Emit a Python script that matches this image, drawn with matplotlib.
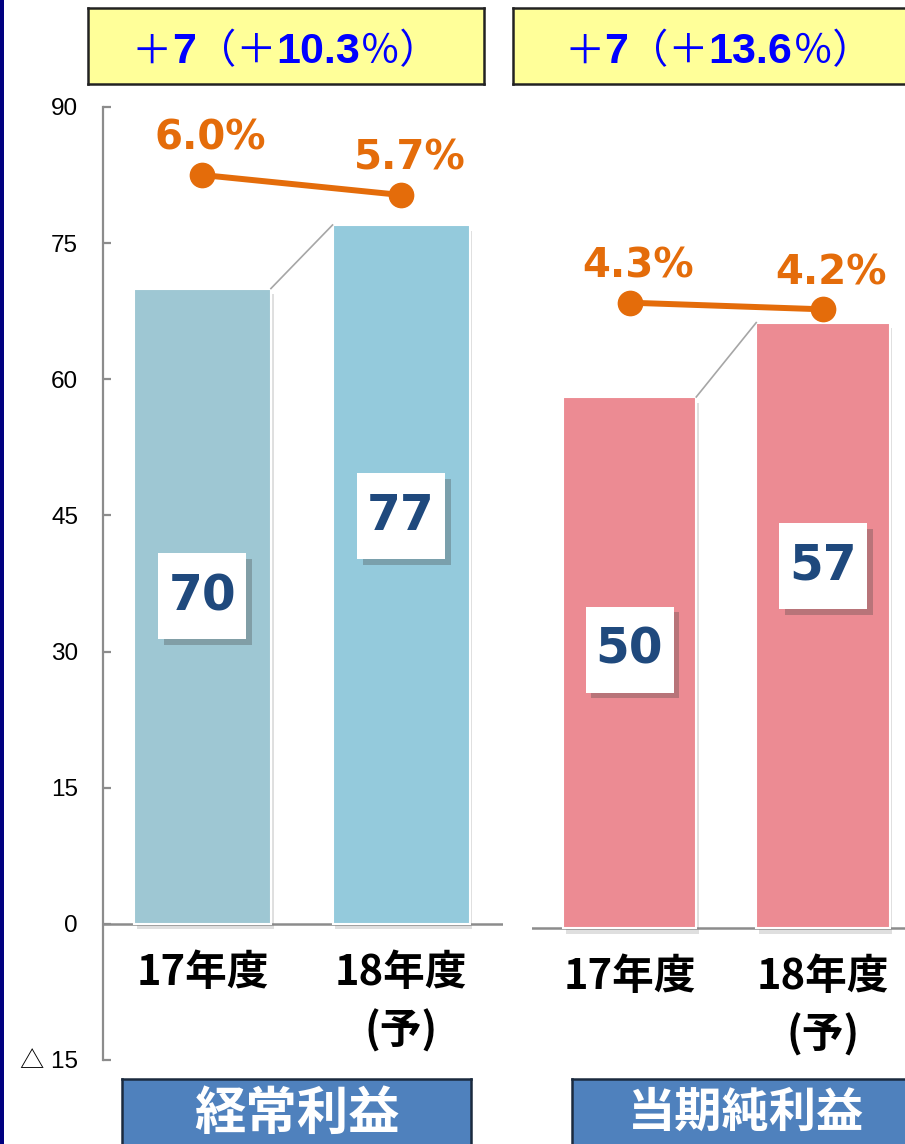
import matplotlib
matplotlib.use('Agg')
import matplotlib.pyplot as plt
from matplotlib import patheffects as pe
from matplotlib.path import Path

# ---------------- data ----------------
categories = ['17年度', '18年度\n(予)']
panel_titles = ['経常利益', '当期純利益']
ordinary_profit = [70, 77]
net_profit = [50, 57]
ordinary_margin = [6.0, 5.7]
net_margin = [4.3, 4.2]
ordinary_change = ['7', '10.3']
net_change = ['7', '13.6']
ytick_values = [-15, 0, 15, 30, 45, 60, 75, 90]
ytick_labels = ['△ 15', '0', '15', '30', '45', '60', '75', '90']

# ---------------- style ----------------
W, H = 905, 1144
ORANGE = '#E46C0A'
NAVY_TXT = '#1F497D'
GRAY = '#8C8C8C'
left_colors = ['#9EC7D3', '#94CADC']
right_colors = ['#EC8B93', '#EC8B93']
label_frac = [[0.516, 0.583], [0.524, 0.598]]
CJK = ['Noto Sans CJK JP', 'DejaVu Sans']

fig = plt.figure(figsize=(W / 100, H / 100), dpi=100)
fig.patch.set_facecolor('white')


def rect(l, t, r, b):
    return [l / W, 1 - b / H, (r - l) / W, (b - t) / H]


def fixed_box(x0, y0, width, height, mutation_size):
    # square label box of fixed pixel size centred on the text
    cx, cy = x0 + width / 2, y0 + height / 2
    w, h = 88, 86
    return Path([(cx - w / 2, cy - h / 2), (cx + w / 2, cy - h / 2), (cx + w / 2, cy + h / 2),
                 (cx - w / 2, cy + h / 2), (cx - w / 2, cy - h / 2)], closed=True)


# navy border on the left edge
border = fig.add_axes(rect(0, 0, 4, H))
border.set_facecolor('#000080')
border.set_xticks([]); border.set_yticks([])
for s in border.spines.values():
    s.set_visible(False)


def draw_panel(pos, values, margins, colors, ylim, xlim, tlim, fracs, show_axis):
    ax = fig.add_axes(pos)
    ax.set_facecolor('none')
    ax.set_ylim(*ylim)
    ax.set_xlim(*xlim)
    for s in ['top', 'right', 'bottom']:
        ax.spines[s].set_visible(False)
    ax.set_xticks([])
    if show_axis:
        ax.spines['left'].set_color(GRAY)
        ax.spines['left'].set_linewidth(1.6)
        ax.set_yticks(ytick_values)
        ax.set_yticklabels(ytick_labels, family=['Liberation Sans', 'Noto Sans CJK JP'], fontsize=17.5)
        ax.tick_params(axis='y', direction='in', length=6, width=1.6, color=GRAY, pad=18)
    else:
        ax.spines['left'].set_visible(False)
        ax.set_yticks([])
    ax.axhline(0, color=GRAY, lw=1.8, zorder=1)
    x = list(range(len(values)))
    width = 0.69
    bars = ax.bar(x, values, width=width, color=colors, edgecolor='white', linewidth=1.5, zorder=2)
    for b in bars:
        b.set_path_effects([pe.SimplePatchShadow(offset=(2, -4), shadow_rgbFace='#808080', alpha=0.25), pe.Normal()])
    # connector line between bar tops
    ax.plot([x[0] + width / 2, x[1] - width / 2], [values[0], values[1]], color='#A6A6A6', lw=1.2, zorder=2)
    # value boxes
    for i, v in enumerate(values):
        t = ax.text(i, v * fracs[i], f'{v}', ha='center', va='center', fontsize=35, fontweight='bold',
                    color=NAVY_TXT, family='DejaVu Sans', zorder=5,
                    bbox=dict(boxstyle=fixed_box, fc='white', ec='none'))
        t.get_bbox_patch().set_path_effects([pe.SimplePatchShadow(offset=(4, -4), shadow_rgbFace='#404040', alpha=0.3), pe.Normal()])
    # category labels
    for i, c in enumerate(categories):
        ax.annotate(c, xy=(i, 0), xytext=(0, -28), textcoords='offset pixels', ha='center', va='top',
                    fontsize=30, fontweight='bold', family=CJK, linespacing=1.45, annotation_clip=False)
    # margin line on twin axis
    tw = ax.twinx()
    tw.set_position(pos)
    tw.set_ylim(*tlim)
    tw.set_xlim(*xlim)
    for s in tw.spines.values():
        s.set_visible(False)
    tw.set_yticks([])
    tw.plot(x, margins, color=ORANGE, lw=4.3, marker='o', markersize=17.5, zorder=6)
    for i, m in enumerate(margins):
        tw.annotate(f'{m:.1f}%', xy=(i, m), xytext=(6, 26), textcoords='offset points', ha='center',
                    va='center', fontsize=29, fontweight='bold', color=ORANGE, family='DejaVu Sans')
    return ax


draw_panel(rect(103, 107, 503, 1060), ordinary_profit, ordinary_margin, left_colors,
           (-15, 90), (-0.5, 1.513), (-7.275, 7.02), label_frac[0], True)
draw_panel(rect(532, 107, 905, 1060), net_profit, net_margin, right_colors,
           (-12.43, 77.3), (-0.504, 1.424), (-7.06, 7.235), label_frac[1], False)


# ---------------- header boxes ----------------
def header(pos, change):
    hx = fig.add_axes(pos)
    hx.set_facecolor('#FFFF99')
    hx.set_xticks([]); hx.set_yticks([])
    for s in hx.spines.values():
        s.set_color('#222222'); s.set_linewidth(1.8)
    pieces = [('＋', dict(family=CJK, fontsize=29)),
              (change[0], dict(family='Liberation Sans', fontweight='bold', fontsize=31)),
              ('（＋', dict(family=CJK, fontsize=29)),
              (change[1], dict(family='Liberation Sans', fontweight='bold', fontsize=31)),
              ('％）', dict(family=CJK, fontsize=29))]
    texts = [hx.text(0, 0.27, s, transform=hx.transAxes, ha='left', va='baseline', color='#0000FF', **kw)
             for s, kw in pieces]
    fig.canvas.draw()
    r = fig.canvas.get_renderer()
    widths = [t.get_window_extent(r).width for t in texts]
    axw = hx.get_window_extent(r).width
    xx = 0.5 - sum(widths) / 2 / axw
    for t, w in zip(texts, widths):
        t.set_x(xx)
        xx += w / axw


header(rect(88, 8, 484, 84), ordinary_change)
header(rect(513, 8, 924, 84), net_change)


# ---------------- bottom title boxes ----------------
def title_box(pos, text, size):
    bx = fig.add_axes(pos)
    bx.set_facecolor('#4F81BD')
    bx.set_xticks([]); bx.set_yticks([])
    for s in bx.spines.values():
        s.set_color('#1B2A3E'); s.set_linewidth(1.8)
    bx.text(0.5, 0.58, text, transform=bx.transAxes, ha='center', va='center', color='white',
            fontsize=size, fontweight='bold', family=CJK)


title_box(rect(122, 1079, 471, 1160), panel_titles[0], 37)
title_box(rect(572, 1079, 921, 1160), panel_titles[1], 34)

fig.savefig('out.png', dpi=100)
